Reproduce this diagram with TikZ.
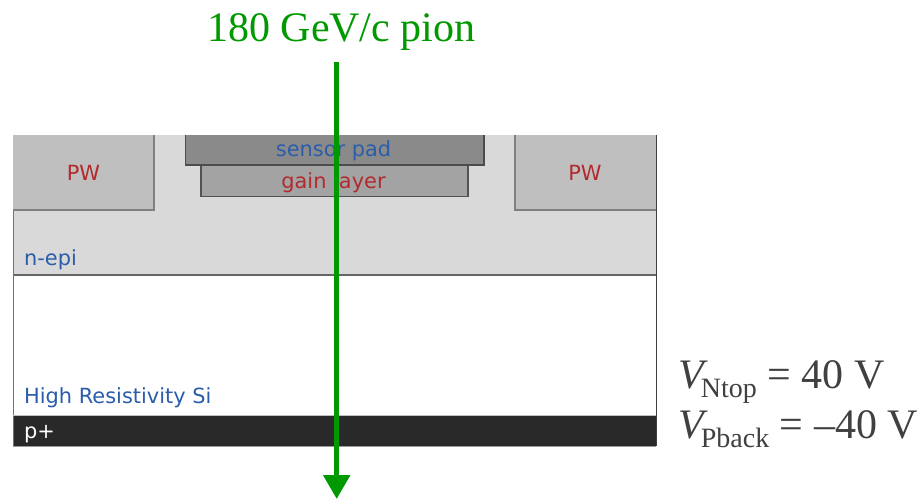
\documentclass[tikz,border=0pt]{standalone}
\usepackage{fontspec}
\setmainfont{Liberation Serif}
\newfontfamily\djv{DejaVu Sans}
\usetikzlibrary{arrows.meta}
\definecolor{blueT}{HTML}{2B5DAB}
\definecolor{redT}{HTML}{B22A2E}
\definecolor{beam}{HTML}{009900}
\definecolor{grayT}{HTML}{404040}
\tikzset{
  lbl/.style={font=\djv\fontsize{20.9}{22}\selectfont, inner sep=0pt, anchor=base},
  lblw/.style={lbl, anchor=base west},
  edge/.style={draw=#1, line width=1.1pt},
  big/.style={font=\fontsize{42}{46}\selectfont, inner sep=0pt, anchor=base west, text=grayT},
}
\newcommand{\vsub}[1]{\kern-7pt\raisebox{-9pt}{\fontsize{28}{30}\selectfont #1}}
\begin{document}
\begin{tikzpicture}[x=1pt,y=-1pt]
\useasboundingbox (0,0) rectangle (918,500);
% layers
\fill[fill=white] (13,275) rectangle (656,415);
\fill[fill=black!15!white] (13,135) rectangle (656,275);
\fill[fill=black!84] (13,415) rectangle (656,446);
\draw[edge=black!60] (13,275) -- (656,275);
\draw[draw=black!15, line width=0.8pt] (13,135) -- (656,135);
\draw[draw=black!55, line width=1pt] (13,135) -- (13,446);
\draw[draw=black!75, line width=1pt] (656,135) -- (656,446);
\draw[draw=black!25, line width=0.6pt] (13,415) -- (656,415);
\draw[draw=black!40, line width=0.6pt] (13,446) -- (656,446);
% wells and pads
\path[fill=black!25] (13,135) rectangle (154,210);
\draw[edge=black!50] (13,210) -- (154,210) -- (154,135);
\path[fill=black!25] (515,135) rectangle (656,210);
\draw[edge=black!50] (656,210) -- (515,210) -- (515,135);
\path[fill=black!36] (201,165) rectangle (468,196.5);
\draw[edge=black!68] (201,165) -- (201,196.5) -- (468,196.5) -- (468,165);
\path[fill=black!46] (185.5,135) rectangle (484,165);
\draw[edge=black!70] (185.5,135) -- (185.5,165) -- (484,165) -- (484,135);
% labels
\node[lbl,text=redT] (pwl) at (83.5,180.5) {PW};
\node[lbl,text=redT] (pwr) at (585,180.5) {PW};
\node[lbl,text=blueT] (pad) at (333.5,156.5) {sensor pad};
\node[lbl,text=redT] (gain) at (333.5,188.5) {gain layer};
\node[lblw,text=blueT] (nepi) at (24,265) {n-epi};
\node[lblw,text=blueT] (hrs) at (24,403) {High Resistivity Si};
\node[lblw,text=white] (pp) at (24,438) {p+};
% beam
\node[big,text=beam] (title) at (207,42) {180 GeV/c pion};
\coordinate (beamtop) at (336.7,62);
\coordinate (beamend) at (336.7,499);
\draw[draw=beam, line width=5.5pt, -{Triangle[width=26pt,length=24pt]}] (beamtop) -- (beamend);
% voltages
\node[big] (vn) at (678,388) {\textit{V}\vsub{Ntop} = 40 V};
\node[big] (vp) at (678,438) {\textit{V}\vsub{Pback} = –40 V};
\end{tikzpicture}
\end{document}
